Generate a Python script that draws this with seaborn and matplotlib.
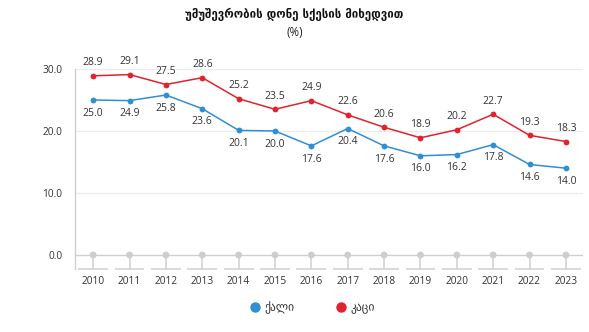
import matplotlib
matplotlib.use("Agg")
import matplotlib.pyplot as plt
from matplotlib.lines import Line2D
import seaborn as sns
import pandas as pd
import numpy as np

years = [str(y) for y in range(2010, 2024)]
female = [25.0, 24.9, 25.8, 23.6, 20.1, 20.0, 17.6, 20.4, 17.6, 16.0, 16.2, 17.8, 14.6, 14.0]
male = [28.9, 29.1, 27.5, 28.6, 25.2, 23.5, 24.9, 22.6, 20.6, 18.9, 20.2, 22.7, 19.3, 18.3]
series_names = ["ქალი", "კაცი"]
colors = {"ქალი": "#2f8fd3", "კაცი": "#e0232e"}
title = "უმუშევრობის დონე სქესის მიხედვით"
subtitle = "(%)"
yticks = [0, 10, 20, 30]

sns.set_theme(style="white")
plt.rcParams["font.family"] = ["Open Sans", "DejaVu Sans"]

df = pd.DataFrame({
    "year": years * 2,
    "pos": list(range(len(years))) * 2,
    "value": female + male,
    "sex": [series_names[0]] * len(years) + [series_names[1]] * len(years),
})

fig = plt.figure(figsize=(5.89, 3.32), dpi=100)
ax = fig.add_axes([75 / 589, 1 - 269 / 332, (583 - 75) / 589, (269 - 69) / 332])

grid_c = "#ececec"
axis_c = "#cfcfcf"
text_c = "#333333"

ymin = -14 / 6.2
ax.set_ylim(ymin, 30)
ax.set_xlim(-0.5, len(years) - 1 + 0.47)

for t in yticks[1:]:
    ax.axhline(t, color=grid_c, lw=0.9, zorder=0)

# Baseline with category stems and separated axis segments
n = len(years)
idx = np.arange(n)
ax.axhline(0, color=axis_c, lw=1.0, zorder=1)
ax.vlines(idx, ymin, 0, color=axis_c, lw=1.1, zorder=1, clip_on=False)
ax.hlines([ymin] * n, idx - 0.41, idx + 0.41, color=axis_c, lw=1.1, zorder=1, clip_on=False)
sns.scatterplot(x=idx, y=np.zeros(n), ax=ax, color="#cdcdcd", s=24, edgecolor="none", zorder=2, legend=False)

sns.lineplot(data=df, x="pos", y="value", hue="sex", palette=colors, ax=ax,
             marker="o", markersize=4.2, markeredgewidth=0, linewidth=1.1,
             legend=False, zorder=3)

for i, v in enumerate(male):
    ax.annotate(f"{v:.1f}", (i, v), xytext=(0, 9.5), textcoords="offset points",
                ha="center", va="center", fontsize=7.5, color=text_c)
for i, v in enumerate(female):
    ax.annotate(f"{v:.1f}", (i, v), xytext=(0, -9.5), textcoords="offset points",
                ha="center", va="center", fontsize=7.5, color=text_c)

ax.set_yticks(yticks)
ax.set_yticklabels([f"{t:.1f}" for t in yticks], fontsize=7.3, color=text_c)
ax.set_xticks(idx)
ax.set_xticklabels(years, fontsize=7.3, color=text_c)
ax.tick_params(axis="x", length=0, pad=5)
ax.tick_params(axis="y", length=0, pad=9)
ax.set_xlabel("")
ax.set_ylabel("")

for s in ["top", "right", "bottom"]:
    ax.spines[s].set_visible(False)
ax.spines["left"].set_color(axis_c)
ax.spines["left"].set_linewidth(1.0)

fig.text(0.5, 1 - 14 / 332, title, ha="center", va="center", fontsize=8.3,
         fontweight="bold", color="#111111", family=["DejaVu Sans"])
fig.text(0.5, 1 - 33 / 332, subtitle, ha="center", va="center", fontsize=8.3,
         color="#222222")

handles = [Line2D([], [], marker="o", linestyle="none", markersize=7.5,
                  markerfacecolor=colors[s], markeredgewidth=0) for s in series_names]
fig.legend(handles, series_names, loc="center", bbox_to_anchor=(312 / 589, 1 - 308 / 332),
           ncol=2, frameon=False, fontsize=8.3, handletextpad=0.3, columnspacing=3.6,
           handlelength=1.0, labelcolor=text_c)

fig.savefig("out.png", dpi=100, facecolor="white")
